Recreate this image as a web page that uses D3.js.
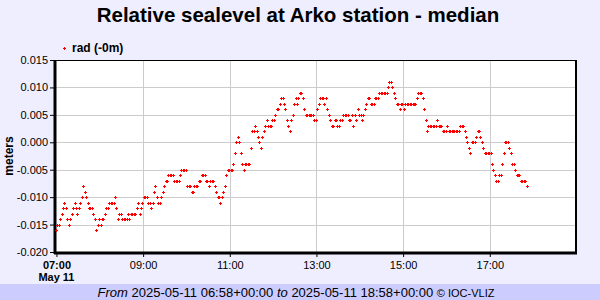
<!DOCTYPE html>
<html>
<head>
<meta charset="utf-8">
<script src="https://cdn.jsdelivr.net/npm/d3@7"></script>
<style>
  body { margin: 0; background: #eeeeff; }
  svg { display: block; font-family: "Liberation Sans", Arial, sans-serif; }
</style>
</head>
<body>
<div id="chart"></div>
<script>
// relative sea level (mm), one reading every 2 minutes starting 06:59 UTC
const startTime = "2025-05-11T06:59:00Z";
const stepMinutes = 2;
const level07 = [-16,-15,-15,-14,-13,-12,-11,-12,-14,-15,-14,-13,-12,-11,-12,-13,-12,-11,-10,-8,-9,-10,-11,-12,-12,-12,-13,-14,-16,-15,-14];
const level08 = [-15,-14,-14,-13,-12,-12,-11,-11,-11,-11,-10,-12,-14,-13,-13,-14,-14,-14,-14,-13,-14,-13,-13,-13,-13,-12,-11,-13,-12,-11];
const level09 = [-10,-10,-10,-11,-11,-12,-11,-9,-8,-10,-11,-11,-10,-9,-8,-7,-7,-6,-6,-6,-6,-7,-7,-7,-7,-6,-5,-5,-5,-5];
const level10 = [-8,-8,-8,-9,-9,-8,-8,-8,-7,-7,-6,-6,-6,-7,-7,-8,-7,-7,-7,-8,-9,-10,-10,-11,-10,-9,-8,-6,-5,-5];
const level11 = [-5,-5,-4,-2,0,1,0,-2,-4,-5,-4,-4,-4,-4,-1,2,2,3,2,1,0,-1,1,2,3,4,3,3,3,4];
const level12 = [4,5,6,6,7,8,8,7,6,4,3,2,4,5,7,8,7,8,9,9,8,6,5,5,5,5,5,5,4,4];
const level13 = [6,7,8,8,8,7,8,6,5,4,3,3,4,4,3,3,4,4,5,5,5,5,4,4,5,3,5,4,6,5];
const level14 = [5,4,5,6,7,8,8,7,7,7,8,8,8,9,9,9,9,9,9,10,11,11,10,9,8,7,7,6,7,7];
const level15 = [6,7,7,7,7,7,7,7,7,8,9,9,9,8,6,4,2,3,3,3,3,3,3,4,3,3,3,2,2,2];
const level16 = [3,2,2,2,2,2,2,2,2,3,3,3,2,1,0,-1,-2,0,0,0,1,2,2,1,0,-1,-2,-2,-2,-2];
const level17 = [-2,-4,-5,-6,-7,-7,-6,-6,-4,-2,0,0,0,-1,-2,-4,-4,-5,-6,-6,-6,-7,-7,-7,-7,-8];

const yTicks = [-0.020, -0.015, -0.010, -0.005, 0.000, 0.005, 0.010, 0.015];
const xTicks = ["07:00", "09:00", "11:00", "13:00", "15:00", "17:00"];
const seriesName = "rad (-0m)";

const levels = [].concat(level07, level08, level09, level10, level11, level12,
  level13, level14, level15, level16, level17);
const t0 = new Date(startTime);
const data = levels.map((v, i) => ({
  time: new Date(t0.getTime() + i * stepMinutes * 60000),
  value: v / 1000
}));

const width = 600, height = 300;
const plot = {left: 55, right: 575, top: 60, bottom: 252};

const svg = d3.select("#chart")
  .append("svg")
    .attr("width", width)
    .attr("height", height);

svg.append("rect")
  .attr("width", width)
  .attr("height", height)
  .attr("fill", "#eeeeff");

// footer band
svg.append("rect")
  .attr("x", 0).attr("y", 284)
  .attr("width", width).attr("height", 16)
  .attr("fill", "#ccccff");

const footer = svg.append("text")
  .attr("x", 296).attr("y", 297)
  .attr("text-anchor", "middle")
  .style("font-size", "13px")
  .attr("fill", "#000");
footer.append("tspan").style("font-style", "italic").text("From");
footer.append("tspan").text(" 2025-05-11 06:58+00:00 ");
footer.append("tspan").style("font-style", "italic").text("to");
footer.append("tspan").text(" 2025-05-11 18:58+00:00 ");
footer.append("tspan").style("font-size", "11px").text("© IOC-VLIZ");

svg.append("text")
  .attr("x", 298).attr("y", 22)
  .attr("text-anchor", "middle")
  .style("font-size", "20.5px")
  .style("font-weight", "bold")
  .text("Relative sealevel at Arko station - median");

const x = d3.scaleUtc()
  .domain([new Date("2025-05-11T06:58:00Z"), new Date("2025-05-11T18:58:00Z")])
  .range([plot.left, plot.right]);

const y = d3.scaleLinear()
  .domain([-0.020, 0.015])
  .range([plot.bottom, plot.top]);

svg.append("rect")
  .attr("x", plot.left).attr("y", plot.top)
  .attr("width", plot.right - plot.left)
  .attr("height", plot.bottom - plot.top)
  .attr("fill", "#fff");

const xTickDates = xTicks.map(s => new Date("2025-05-11T" + s + ":00Z"));

// grid
svg.append("g")
  .selectAll("line")
  .data(yTicks.slice(1, -1))
  .join("line")
    .attr("x1", plot.left).attr("x2", plot.right)
    .attr("y1", d => Math.round(y(d)) + 0.5)
    .attr("y2", d => Math.round(y(d)) + 0.5)
    .attr("stroke", "#cccccc");
svg.append("g")
  .selectAll("line")
  .data(xTickDates.slice(1))
  .join("line")
    .attr("x1", d => Math.round(x(d)) + 0.5)
    .attr("x2", d => Math.round(x(d)) + 0.5)
    .attr("y1", plot.top).attr("y2", plot.bottom)
    .attr("stroke", "#cccccc");

// axes
svg.append("g")
  .attr("transform", `translate(${plot.left},0)`)
  .call(d3.axisLeft(y).tickValues(yTicks).tickSize(5).tickPadding(2)
    .tickFormat(d => d.toFixed(3)))
  .call(g => g.select(".domain").remove())
  .call(g => g.selectAll("text").style("font-size", "11px")
    .attr("fill", "#000").attr("font-family", null));

const xAxis = svg.append("g")
  .attr("transform", `translate(0,${plot.bottom})`)
  .call(d3.axisBottom(x).tickValues(xTickDates).tickSize(5).tickPadding(4)
    .tickFormat(d3.utcFormat("%H:%M")))
  .call(g => g.select(".domain").remove());
xAxis.selectAll("text")
  .style("font-size", "11px")
  .attr("fill", "#000")
  .attr("font-family", null)
  .style("font-weight", (d, i) => i === 0 ? "bold" : "normal");

svg.append("text")
  .attr("x", x(xTickDates[0]))
  .attr("y", 281)
  .attr("text-anchor", "middle")
  .style("font-size", "11px")
  .style("font-weight", "bold")
  .text("May 11");

svg.append("text")
  .attr("transform", `translate(13,${(plot.top + plot.bottom) / 2})rotate(-90)`)
  .attr("text-anchor", "middle")
  .style("font-size", "12px")
  .style("font-weight", "bold")
  .text("meters");

// frame
svg.append("line")
  .attr("x1", plot.left).attr("x2", plot.right + 1)
  .attr("y1", plot.top + 0.5).attr("y2", plot.top + 0.5)
  .attr("stroke", "#000");
svg.append("line")
  .attr("x1", plot.right + 1).attr("x2", plot.right + 1)
  .attr("y1", plot.top).attr("y2", plot.bottom + 1)
  .attr("stroke", "#000").attr("stroke-width", 2);
svg.append("line")
  .attr("x1", plot.left - 1).attr("x2", plot.right + 2)
  .attr("y1", plot.bottom + 1).attr("y2", plot.bottom + 1)
  .attr("stroke", "#000").attr("stroke-width", 3);
svg.append("line")
  .attr("x1", plot.left).attr("x2", plot.left)
  .attr("y1", plot.top).attr("y2", plot.bottom + 2)
  .attr("stroke", "#000").attr("stroke-width", 3);

// points, snapped to the pixel grid so the crosses stay sharp
const cross = "M-1.5,-0.5h3v1h-3z M-0.5,-1.5h1v3h-1z";
svg.append("g")
  .selectAll("path")
  .data(data)
  .join("path")
    .attr("transform", d => `translate(${Math.round(x(d.time)) + 0.5},${Math.round(y(d.value)) + 0.5})`)
    .attr("d", cross)
    .attr("fill", "#ff0000");

// legend
svg.append("path")
  .attr("transform", "translate(64.5,48.5)")
  .attr("d", cross)
  .attr("fill", "#ff0000");
svg.append("text")
  .attr("x", 72).attr("y", 52)
  .style("font-size", "12px")
  .style("font-weight", "bold")
  .text(seriesName);
</script>
</body>
</html>
